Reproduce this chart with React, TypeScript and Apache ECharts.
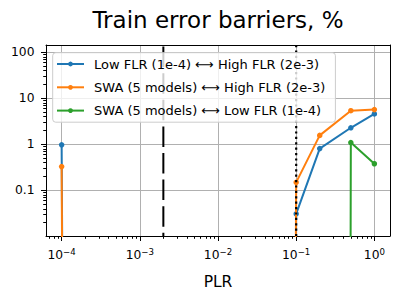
import React, { useEffect, useRef } from 'react';
import * as echarts from 'echarts';

// ---- data ----
const PLR = [1e-4, 1e-3, 1e-2, 1e-1, 2e-1, 5e-1, 1];
const lowVsHighFLR = [0.98, 0, 0, 0.031, 0.81, 2.3, 4.6];
const swaVsHighFLR = [0.33, 0, 0, 0.15, 1.57, 5.4, 5.7];
const swaVsLowFLR = [0, 0, 0, 0, 0, 1.1, 0.38];
const seriesNames = [
  'Low FLR (1e-4) ⟷ High FLR (2e-3)',
  'SWA (5 models) ⟷ High FLR (2e-3)',
  'SWA (5 models) ⟷ Low FLR (1e-4)',
];
const refLinesX = [2e-3, 1e-1]; // dashed, dotted
const xTickExponents = [-4, -3, -2, -1, 0];
const yTickExponents = [-1, 0, 1, 2];
const titleText = 'Train error barriers, %';
const xAxisName = 'PLR';

const COLORS = ['#1f77b4', '#ff7f0e', '#2ca02c'];
const FONT = 'DejaVu Sans';
const X_LOG_MIN = -4.2, X_LOG_MAX = 0.2;
const Y_LOG_MIN = -1.99, Y_LOG_MAX = 2.16;
const X_MIN = Math.pow(10, X_LOG_MIN), X_MAX = Math.pow(10, X_LOG_MAX);
const Y_MIN = Math.pow(10, Y_LOG_MIN), Y_MAX = Math.pow(10, Y_LOG_MAX);

// non-positive values are clipped like matplotlib does on log axes
const clipPos = (v: number) => (v > 0 ? v : 1e-300);

function minorLogTicks(lo: number, hi: number) {
  const out: number[] = [];
  for (let n = Math.floor(lo) - 1; n <= Math.ceil(hi); n++) {
    for (let k = 2; k <= 9; k++) {
      const t = n + Math.log10(k);
      if (t > lo && t < hi) out.push(t);
    }
  }
  return out;
}

export default function App() {
  const ref = useRef<HTMLDivElement>(null);
  useEffect(() => {
    if (!ref.current) return;
    const chart = echarts.init(ref.current, undefined, { renderer: 'svg' });
    const seriesData = [lowVsHighFLR, swaVsHighFLR, swaVsLowFLR];
    const grid = { left: 46, top: 45, right: 10, bottom: 62 };
    const tickStyle = { color: '#000', width: 1 };
    const option: any = {
      animation: false,
      backgroundColor: '#fff',
      title: {
        text: titleText,
        left: 218,
        top: 6.3,
        textAlign: 'center',
        padding: 0,
        textStyle: { fontSize: 23, fontWeight: 'normal', color: '#000', fontFamily: FONT, lineHeight: 28 },
      },
      legend: {
        data: seriesNames,
        orient: 'vertical',
        left: 52.7,
        top: 52.7,
        itemWidth: 27,
        itemHeight: 6,
        itemGap: 7.3,
        padding: [3.3, 10, 3.6, 3.3],
        backgroundColor: 'rgba(255,255,255,0.8)',
        borderColor: '#cccccc',
        borderWidth: 1,
        borderRadius: 3,
        selectedMode: false,
        textStyle: { fontSize: 13, fontFamily: FONT, color: '#000', lineHeight: 16, padding: [0, 0, 0, 5] },
      },
      grid,
      xAxis: [
        {
          type: 'log', min: X_MIN, max: X_MAX, position: 'top',
          axisLine: { show: true, onZero: false, lineStyle: tickStyle },
          axisTick: { show: false }, axisLabel: { show: false }, splitLine: { show: false },
        },
        {
          type: 'value', min: X_LOG_MIN, max: X_LOG_MAX, position: 'bottom',
          name: xAxisName, nameLocation: 'middle', nameGap: 36.5,
          nameTextStyle: { fontSize: 15.5, fontFamily: FONT, color: '#000', lineHeight: 18 },
          axisLine: { show: true, onZero: false, lineStyle: tickStyle },
          axisTick: { show: true, length: 5, lineStyle: tickStyle, customValues: xTickExponents },
          splitLine: { show: true, lineStyle: { color: '#b0b0b0', width: 1 } },
          axisLabel: {
            customValues: xTickExponents,
            margin: 11,
            color: '#000',
            fontFamily: FONT,
            formatter: (v: number) => `{b|10}{s|${v < 0 ? '\u2212' + Math.abs(v) : v}}`,
            rich: {
              b: { fontSize: 12.3, fontFamily: FONT, color: '#000', lineHeight: 14, padding: [2.7, 0, 0, 0], verticalAlign: 'bottom' },
              s: { fontSize: 8.6, fontFamily: FONT, color: '#000', lineHeight: 10, verticalAlign: 'top' },
            },
          },
        },
        {
          type: 'value', min: X_LOG_MIN, max: X_LOG_MAX, position: 'bottom',
          axisLine: { show: false, onZero: false },
          axisTick: { show: true, length: 2.8, lineStyle: tickStyle, customValues: minorLogTicks(X_LOG_MIN, X_LOG_MAX) },
          axisLabel: { show: false }, splitLine: { show: false },
        },
      ],
      yAxis: [
        {
          type: 'log', min: Y_MIN, max: Y_MAX, position: 'right',
          axisLine: { show: true, onZero: false, lineStyle: tickStyle },
          axisTick: { show: false }, axisLabel: { show: false }, splitLine: { show: false },
        },
        {
          type: 'value', min: Y_LOG_MIN, max: Y_LOG_MAX, position: 'left',
          axisLine: { show: true, onZero: false, lineStyle: tickStyle },
          axisTick: { show: true, length: 5, lineStyle: tickStyle, customValues: yTickExponents },
          splitLine: { show: true, lineStyle: { color: '#b0b0b0', width: 1 } },
          axisLabel: {
            customValues: yTickExponents,
            margin: 11.5,
            fontSize: 12.3,
            fontFamily: FONT,
            color: '#000',
            formatter: (v: number) => String(Number(Math.pow(10, v).toPrecision(6))),
          },
        },
        {
          type: 'value', min: Y_LOG_MIN, max: Y_LOG_MAX, position: 'left',
          axisLine: { show: false, onZero: false },
          axisTick: { show: true, length: 2.8, lineStyle: tickStyle, customValues: minorLogTicks(Y_LOG_MIN, Y_LOG_MAX) },
          axisLabel: { show: false }, splitLine: { show: false },
        },
      ],
      series: [
        ...seriesData.map((vals, i) => ({
          name: seriesNames[i],
          type: 'line',
          xAxisIndex: 0,
          yAxisIndex: 0,
          data: PLR.map((x, j) => [x, clipPos(vals[j])]),
          symbol: 'circle',
          symbolSize: 5.5,
          showSymbol: true,
          clip: true,
          z: 2 + i * 0.01,
          lineStyle: { color: COLORS[i], width: 2 },
          itemStyle: { color: COLORS[i] },
        })),
        {
          name: 'ref-dashed',
          type: 'line',
          xAxisIndex: 0,
          yAxisIndex: 0,
          data: [[refLinesX[0], Y_MAX], [refLinesX[0], Y_MIN]],
          symbol: 'none',
          z: 3,
          silent: true,
          lineStyle: { color: '#000', width: 2, type: [20.5, 6.1], dashOffset: 24.9 },
        },
        {
          name: 'ref-dotted',
          type: 'line',
          xAxisIndex: 0,
          yAxisIndex: 0,
          data: [[refLinesX[1], Y_MAX], [refLinesX[1], Y_MIN]],
          symbol: 'none',
          z: 3,
          silent: true,
          lineStyle: { color: '#000', width: 2.2, type: [2.2, 3.2] },
        },
      ],
    };
    chart.setOption(option);
    return () => chart.dispose();
  }, []);
  return <div ref={ref} style={{ width: 400, height: 298, position: 'absolute', left: 0, top: 0 }} />;
}
